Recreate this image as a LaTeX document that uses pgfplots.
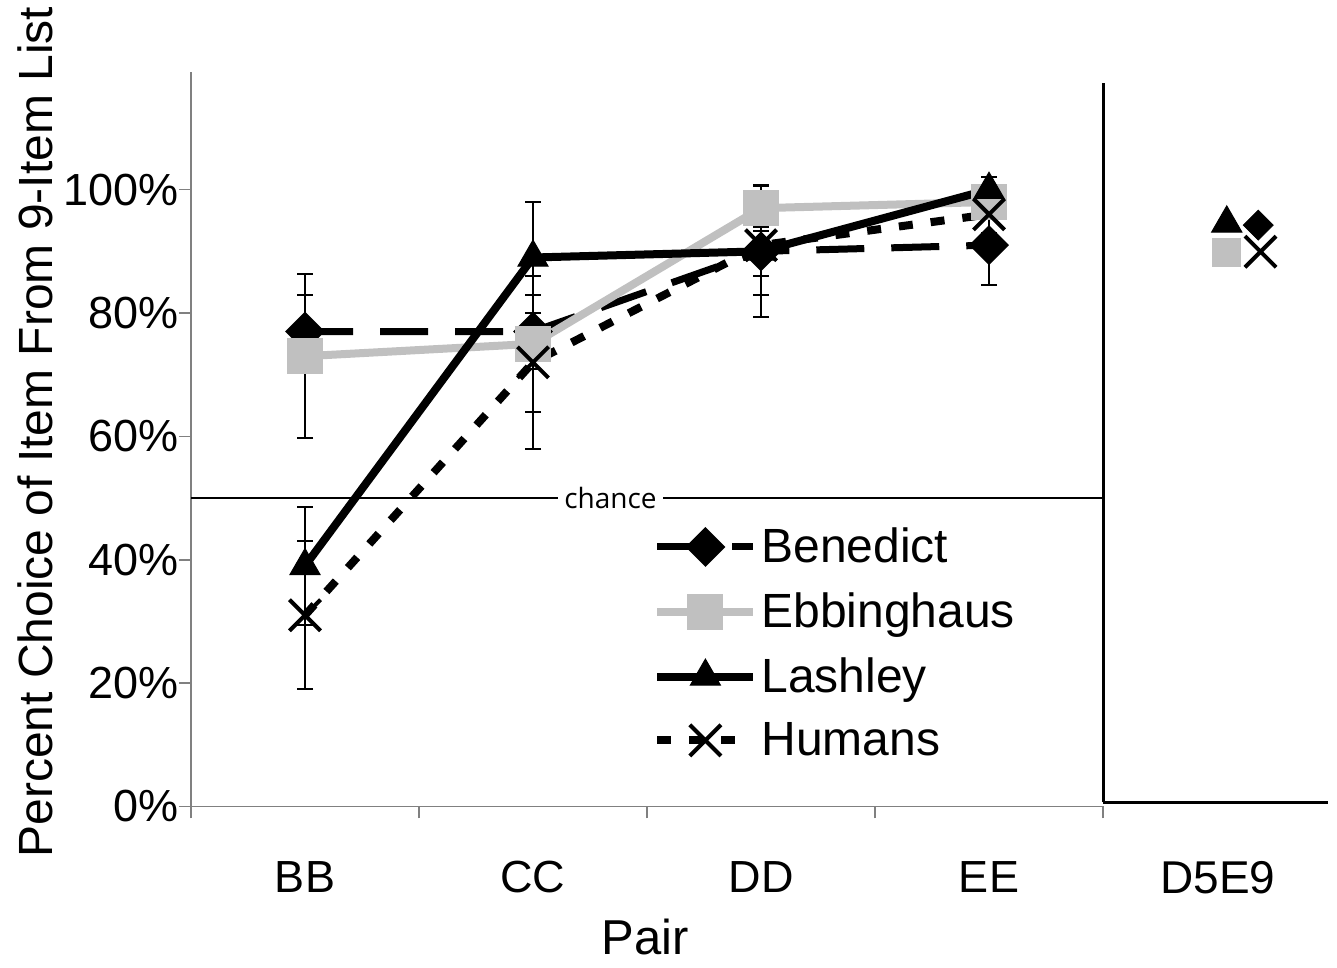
\documentclass[border=0pt]{standalone}
\usepackage{pgfplots}
\pgfplotsset{compat=1.18}
\usepackage{fontspec}
\setmainfont{Liberation Sans}
\newfontfamily\chancefont{Open Sans}
\definecolor{ebgray}{RGB}{192,192,192}
\definecolor{axgray}{RGB}{128,128,128}

\pgfplotsset{
  ebars/.style={
    error bars/.cd, y dir=both, y explicit,
    error bar style={black, solid, line width=1pt},
    error mark options={rotate=90, black, solid, mark size=4pt, line width=1pt}
  },
  legend image code/.code={\draw[mark repeat=2,mark phase=2,#1] plot coordinates {(0pt,0pt) (24pt,0pt) (48pt,0pt)};}
}

\begin{document}
\begin{tikzpicture}
\path (0,0) rectangle (668.5pt,482pt);
\begin{axis}[
  at={(95.5pt,80.5pt)}, anchor=south west,
  scale only axis, width=456pt, height=367pt,
  xmin=0, xmax=4, ymin=0, ymax=119,
  axis lines*=left,
  axis line style={axgray, line width=0.8pt},
  tick style={axgray, line width=0.8pt},
  tick align=outside, major tick length=6pt,
  xtick={0,1,2,3,4}, xticklabels={},
  extra x ticks={0.5,1.5,2.5,3.5},
  extra x tick labels={BB,CC,DD,EE},
  extra x tick style={major tick length=0pt, tick label style={yshift=-24pt}},
  ytick={0,20,...,100},
  yticklabel={\pgfmathprintnumber{\tick}\%},
  yticklabel style={xshift=3.5pt},
  /pgf/number format/assume math mode=true,
  tick label style={font=\fontsize{22.5}{26}\selectfont},
  ylabel={Percent Choice of Item From 9-Item List},
  ylabel style={at={(axis description cs:-0.171,0.51)}, anchor=center, font=\fontsize{24}{28}\selectfont},
  xlabel={Pair},
  xlabel style={at={(axis description cs:0.498,-0.178)}, anchor=center, font=\fontsize{24.5}{28}\selectfont},
  clip=false,
  legend style={draw=none, fill=none, at={(axis cs:2.0,46.5)}, anchor=north west,
    font=\fontsize{24}{28}\selectfont, row sep=9.5pt,
    /tikz/every even column/.append style={column sep=2pt}},
  legend cell align=left,
]
% chance line
\addplot[forget plot, black, line width=1pt] coordinates {(0,50) (4,50)}
  node[pos=0.46, fill=white, inner sep=3pt, font=\chancefont\fontsize{14}{16}\selectfont] {chance};

\addplot[black, line width=3.5pt, dash pattern=on 24pt off 13.5pt,
  mark=square*, mark size=5.3pt, mark options={solid, rotate=45, fill=black}, ebars]
  coordinates {(0.5,77) +- (0,6) (1.5,77) +- (0,6) (2.5,90) +- (0,10.6) (3.5,91) +- (0,6.4)};
\addlegendentry{Benedict}

\addplot[ebgray, line width=4pt,
  mark=square*, mark size=7pt, mark options={solid, fill=ebgray}, ebars]
  coordinates {(0.5,73) +- (0,13.3) (1.5,75) +- (0,11) (2.5,97) +- (0,3.7) (3.5,98) +- (0,2)};
\addlegendentry{Ebbinghaus}

\addplot[black, line width=4pt,
  mark=triangle*, mark size=8.7pt, mark options={solid, fill=black, line width=0.5pt}, ebars]
  coordinates {(0.5,39) +- (0,9.5) (1.5,89) +- (0,9) (2.5,90) +- (0,4) (3.5,100) +- (0,2)};
\addlegendentry{Lashley}

\addplot[black, line width=4pt, dash pattern=on 7pt off 9pt,
  mark=x, mark size=11pt, mark options={solid, line width=2pt}, ebars]
  coordinates {(0.5,31) +- (0,12) (1.5,72) +- (0,14) (2.5,91) +- (0,8) (3.5,96) +- (0,3)};
\addlegendentry{Humans}
\end{axis}

\begin{axis}[
  at={(551.5pt,82.5pt)}, anchor=south west,
  scale only axis, width=112.5pt, height=359.5pt,
  xmin=0, xmax=1, ymin=0, ymax=116.7,
  axis lines*=left,
  axis line style={black, line width=1.5pt},
  ytick=\empty,
  xtick={0.51}, xticklabels={D5E9},
  major tick length=0pt,
  /pgf/number format/assume math mode=true,
  tick label style={font=\fontsize{23}{26}\selectfont, yshift=-26pt},
  clip=false,
]
\addplot[only marks, mark=triangle*, mark size=8.7pt, mark options={fill=black, draw=black, line width=0.5pt}]
  coordinates {(0.55,94)};
\addplot[only marks, mark=square*, mark size=7pt, mark options={fill=ebgray, draw=ebgray}]
  coordinates {(0.55,89.3)};
\addplot[only marks, mark=square*, mark size=5.3pt, mark options={rotate=45, fill=black, draw=black}]
  coordinates {(0.69,93.7)};
\addplot[only marks, mark=x, mark size=11pt, mark options={black, line width=2pt}]
  coordinates {(0.70,89.4)};
\end{axis}
\end{tikzpicture}
\end{document}
